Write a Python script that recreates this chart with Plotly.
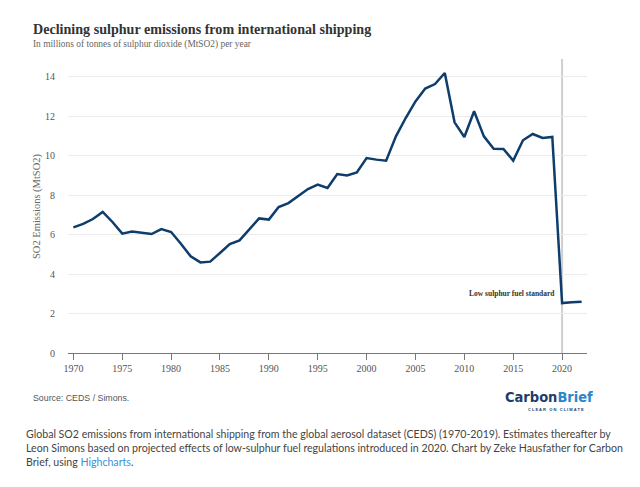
import plotly.graph_objects as go

years = list(range(1970, 2023))
emissions = [6.37, 6.54, 6.79, 7.15, 6.64, 6.05, 6.16, 6.08, 6.03, 6.28,
             6.13, 5.54, 4.90, 4.59, 4.63, 5.07, 5.52, 5.71, 6.25, 6.82,
             6.76, 7.40, 7.60, 7.94, 8.31, 8.53, 8.36, 9.07, 9.00, 9.15,
             9.88, 9.80, 9.75, 10.98, 11.91, 12.75, 13.40, 13.63, 14.19, 11.69,
             10.95, 12.25, 10.98, 10.35, 10.34, 9.75, 10.78, 11.10, 10.90, 10.95,
             2.53, 2.57, 2.60]
x_ticks = list(range(1970, 2021, 5))
y_ticks = list(range(0, 15, 2))
policy_year = 2020

# page has an 8px body margin; work in screenshot pixels
O = 8
W, H = 640 - O, 487 - O
L, R, T, B = 68, 587, 59, 353   # plot area in screenshot pixels

def px(x):
    return (x - L) / (R - L)

def py(y):
    return (B - y) / (B - T)

serif = "Liberation Serif, Times New Roman, serif"

fig = go.Figure()
fig.add_trace(go.Scatter(x=years, y=emissions, mode="lines",
                         line=dict(color="#0e3d6c", width=2.5),
                         hoverinfo="x+y", showlegend=False))

fig.add_shape(type="line", x0=policy_year, x1=policy_year, xref="x",
              y0=0, y1=1, yref="paper", line=dict(color="#cfcfcf", width=2),
              layer="below")

anns = [
    dict(text="<b>Declining sulphur emissions from international shipping</b>",
         x=px(31), y=py(29), xanchor="left", yanchor="middle",
         font=dict(family=serif, size=14.1, color="#333333")),
    dict(text="In millions of tonnes of sulphur dioxide (MtSO2) per year",
         x=px(31), y=py(45), xanchor="left", yanchor="middle",
         font=dict(family=serif, size=9.4, color="#666666")),
    dict(text="SO2 Emissions (MtSO2)", textangle=-90,
         x=px(37), y=py(206), xanchor="center", yanchor="middle",
         font=dict(family=serif, size=10.5, color="#666666")),
    dict(text="<b>Low sulphur fuel standard</b>",
         x=px(557), y=py(293), xanchor="right", yanchor="middle",
         font=dict(family=serif, size=7.5, color="#333333")),
    dict(text="Source: CEDS / Simons.",
         x=px(31), y=py(398), xanchor="left", yanchor="middle",
         font=dict(family="Liberation Sans, Arial, sans-serif", size=8.8, color="#555555")),
    dict(text="<b><span style='color:#1c3d6b'>Carbon</span><span style='color:#2b86c8'>Brief</span></b>",
         x=px(549), y=py(397), xanchor="center", yanchor="middle",
         font=dict(family="DejaVu Sans Condensed, Liberation Sans Narrow, Roboto, sans-serif", size=14.5, color="#1c3d6b")),
    dict(text="<b>C L E A R   O N   C L I M A T E</b>",
         x=px(556), y=py(410), xanchor="center", yanchor="middle",
         font=dict(family="Liberation Sans, Arial, sans-serif", size=4, color="#1c3d6b")),
    dict(text="Global SO2 emissions from international shipping from the global aerosol dataset (CEDS) (1970-2019). Estimates thereafter by<br>"
              "Leon Simons based on projected effects of low-sulphur fuel regulations introduced in 2020. Chart by Zeke Hausfather for Carbon<br>"
              "Brief, using <span style='color:#3a8fd6'>Highcharts</span>.",
         x=px(24), y=py(426), xanchor="left", yanchor="top", align="left",
         font=dict(family="Lato, Noto Sans, sans-serif", size=10.6, color="#444444")),
]
for a in anns:
    a.update(xref="paper", yref="paper", showarrow=False)
    fig.add_annotation(**a)

fig.update_layout(
    width=W, height=H,
    margin=dict(l=L - O, r=W - (R - O), t=T - O, b=H - (B - O), pad=0),
    paper_bgcolor="white", plot_bgcolor="white",
    xaxis=dict(range=[1969.45, 2022.55], tickvals=x_ticks, showgrid=False,
               zeroline=False, showline=False, ticks="outside", ticklen=6,
               tickcolor="#777777", tickwidth=1,
               tickfont=dict(family=serif, size=10, color="#555555")),
    yaxis=dict(range=[0, 14.9], tickvals=y_ticks, showgrid=True,
               gridcolor="#ececec", gridwidth=1, zeroline=True,
               zerolinecolor="#777777", zerolinewidth=1,
               showline=False, ticks="", ticklabelstandoff=12,
               tickfont=dict(family=serif, size=10, color="#555555")),
    hovermode="closest",
)

fig.write_html("out.html")
